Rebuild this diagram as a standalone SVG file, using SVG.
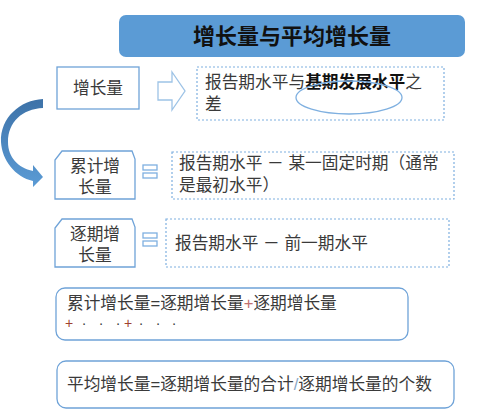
<svg xmlns="http://www.w3.org/2000/svg" width="484" height="415" viewBox="0 0 484 415">
<defs>
<style>
text{font-family:"Liberation Sans","Noto Sans CJK SC",sans-serif;fill:#3a3a3a;font-size:16.7px}
.title{font-size:22px;font-weight:bold;fill:#111}
.c{text-anchor:middle}
.box{fill:#fff;stroke:#6fa3d8;stroke-width:1.3}
.dash{fill:#fff;stroke:#7fb0e0;stroke-width:1.2;stroke-dasharray:2 2}
.eq{fill:#fff;stroke:#7fb0e0;stroke-width:1.3}
.b{font-weight:bold;fill:#111}
.dots{font-size:14px}
</style>
<linearGradient id="g" x1="0" y1="0" x2="0" y2="1">
<stop offset="0" stop-color="#3d72a8"/>
<stop offset="1" stop-color="#5b9bd5"/>
</linearGradient>
</defs>
<rect width="484" height="415" fill="#fff"/>
<g id="title">
<rect x="119" y="15" width="346" height="42" rx="7" fill="#5b9bd5"/>
<text class="title c" x="292" y="44">增长量与平均增长量</text>
</g>
<g id="connectors">
<path d="M43 99 C20 100 0 118 1 142 C2 160 15 177 33 181 L33 187 L43 177 L33 165 L33 171 C18 168 8 157 8 142 C8 122 22 109 43 108 Z" fill="url(#g)"/>
<path d="M158 82 L172 82 L172 72 L185 91 L172 110 L172 100 L158 100 Z" fill="#fff" stroke="#9dc3e6" stroke-width="1.3"/>
<rect class="eq" x="143" y="165" width="14" height="5"/>
<rect class="eq" x="143" y="173" width="14" height="5"/>
<rect class="eq" x="143" y="233" width="14" height="5"/>
<rect class="eq" x="143" y="241" width="14" height="5"/>
</g>
<g id="n1">
<rect class="box" x="57" y="67" width="82" height="42"/>
<text class="c" x="98" y="94">增长量</text>
</g>
<g id="d1">
<rect class="dash" x="197" y="67" width="247" height="53"/>
<text x="205" y="88">报告期水平与<tspan class="b">基期发展水平</tspan>之</text>
<text x="205" y="110">差</text>
<ellipse cx="349" cy="97.5" rx="53" ry="16.5" fill="none" stroke="#7fb0e0" stroke-width="1.3"/>
</g>
<g id="n2">
<path class="box" d="M55 199 L55 160 L62 151 L132 151 L135 159 L135 199 Z"/>
<text class="c" x="95" y="172">累计增</text>
<text class="c" x="95" y="193">长量</text>
</g>
<g id="d2">
<rect class="dash" x="172" y="152" width="282" height="47"/>
<text x="179" y="169">报告期水平 － 某一固定时期（通常</text>
<text x="179" y="191">是最初水平）</text>
</g>
<g id="n3">
<path class="box" d="M55 267 L55 228 L62 219 L132 219 L135 227 L135 267 Z"/>
<text class="c" x="95" y="240">逐期增</text>
<text class="c" x="95" y="261">长量</text>
</g>
<g id="d3">
<rect class="dash" x="166" y="219" width="283" height="48"/>
<text x="175" y="249">报告期水平 － 前一期水平</text>
</g>
<g id="f1">
<rect class="box" x="56" y="288" width="352" height="52" rx="9"/>
<text x="67" y="309">累计增长量=逐期增长量<tspan fill="#c07070">+</tspan>逐期增长量</text>
<text class="dots c" y="328"><tspan x="69" fill="#a04030">+</tspan><tspan x="84">·</tspan><tspan x="101">·</tspan><tspan x="118">·</tspan><tspan x="128" fill="#a04030">+</tspan><tspan x="141">·</tspan><tspan x="158">·</tspan><tspan x="174">·</tspan></text>
</g>
<g id="f2">
<rect class="box" x="57" y="361" width="397" height="47" rx="9"/>
<text x="67" y="390">平均增长量=逐期增长量的合计<tspan fill="#8aa8c8">/</tspan>逐期增长量的个数</text>
</g>
</svg>
